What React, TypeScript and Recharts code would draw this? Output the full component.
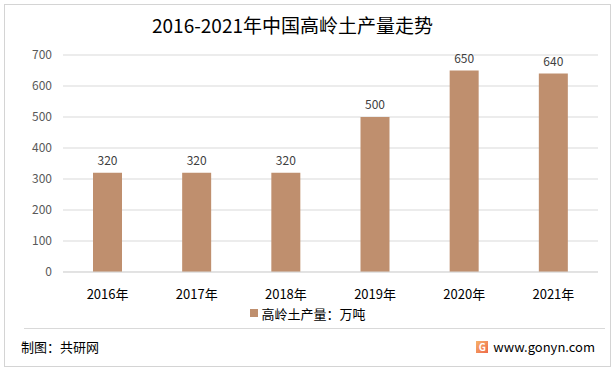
import React from "react";
import { BarChart, Bar, XAxis, YAxis, CartesianGrid, Legend, LabelList } from "recharts";

const years = ["2016年", "2017年", "2018年", "2019年", "2020年", "2021年"];
const output = [320, 320, 320, 500, 650, 640];
const yTicks = [0, 100, 200, 300, 400, 500, 600, 700];

const data = years.map((year, i) => ({ year, output: output[i] }));

const FONT = '"Noto Sans CJK SC", "Noto Sans", sans-serif';
const BAR = "#BF8F6E";

const LegendContent = () => (
  <div
    style={{
      display: "flex",
      justifyContent: "center",
      alignItems: "center",
      fontSize: 13,
      color: "#000",
      fontFamily: FONT,
      height: 18,
      paddingLeft: 18,
    }}
  >
    <span style={{ width: 8, height: 8, background: BAR, marginRight: 3, display: "inline-block" }} />
    <span>高岭土产量：万吨</span>
  </div>
);

export default function App() {
  return (
    <div
      style={{
        position: "fixed",
        left: 0,
        top: 0,
        width: 615,
        height: 374,
        background: "#fff",
        fontFamily: FONT,
      }}
    >
      <div
        style={{
          position: "absolute",
          left: 4,
          top: 4,
          width: 605,
          height: 361,
          border: "1px solid #D4D4D4",
        }}
      />
      <div
        style={{
          position: "absolute",
          top: 11,
          left: 0,
          width: 585,
          textAlign: "center",
          fontSize: 19,
          color: "#000",
        }}
      >
        2016-2021年中国高岭土产量走势
      </div>
      <div style={{ position: "absolute", left: 0, top: 0 }}>
        <BarChart
          width={615}
          height={330}
          data={data}
          margin={{ top: 55, right: 17, left: 0, bottom: 8 }}
        >
          <CartesianGrid stroke="#D9D9D9" vertical={false} />
          <XAxis
            dataKey="year"
            axisLine={{ stroke: "#D9D9D9" }}
            tickLine={false}
            height={32}
            tickMargin={12}
            tick={{ fontSize: 13, fill: "#000", fontFamily: FONT }}
          />
          <YAxis
            domain={[0, 700]}
            ticks={yTicks}
            width={63}
            axisLine={false}
            tickLine={false}
            tickMargin={5}
            tick={{ fontSize: 12, fill: "#595959", fontFamily: FONT }}
          />
          <Legend verticalAlign="bottom" height={18} content={<LegendContent />} />
          <Bar dataKey="output" fill={BAR} barSize={29} isAnimationActive={false}>
            <LabelList
              dataKey="output"
              position="top"
              offset={8}
              style={{ fontSize: 12, fill: "#404040", fontFamily: FONT }}
            />
          </Bar>
        </BarChart>
      </div>
      <div
        style={{
          position: "absolute",
          left: 24,
          top: 328,
          width: 581,
          height: 1,
          background: "#D9D9D9",
        }}
      />
      <div style={{ position: "absolute", left: 21, top: 337, fontSize: 13, color: "#000" }}>
        制图：共研网
      </div>
      <div
        style={{
          position: "absolute",
          right: 20,
          top: 337,
          fontSize: 13,
          color: "#000",
          display: "flex",
          alignItems: "center",
        }}
      >
        <span
          style={{
            width: 12,
            height: 12,
            background: "linear-gradient(135deg, #F7B26A, #EE6A4A)",
            marginRight: 5,
            display: "inline-block",
            color: "#fff",
            fontSize: 10,
            lineHeight: "12px",
            textAlign: "center",
            fontWeight: 700,
          }}
        >
          G
        </span>
        www.gonyn.com
      </div>
    </div>
  );
}
